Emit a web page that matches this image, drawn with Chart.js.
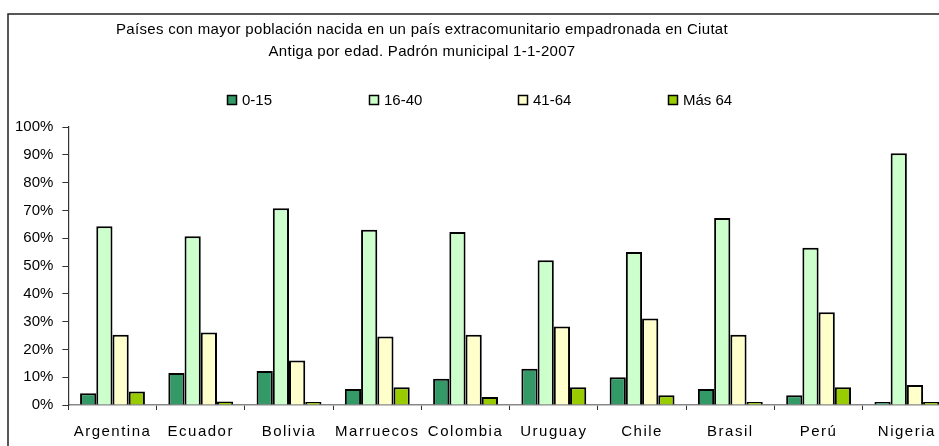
<!DOCTYPE html>
<html>
<head>
<meta charset="utf-8">
<script src="https://cdn.jsdelivr.net/npm/chart.js@4/dist/chart.umd.min.js"></script>
<style>
  html, body { margin: 0; padding: 0; background: #fff; overflow: hidden; width: 939px; height: 446px; }
  canvas { display: block; }
</style>
</head>
<body>
<canvas id="grafico" width="960" height="460"></canvas>
<script>
// --- DATOS ---
const categorias = ["Argentina", "Ecuador", "Bolivia", "Marruecos", "Colombia", "Uruguay", "Chile", "Brasil", "Perú", "Nigeria"];
const etiquetasSeries = ["0-15", "16-40", "41-64", "Más 64"];

const edad0a15  = [4.2, 11.5, 12.2, 5.8, 9.4, 13.0, 10.0, 5.8, 3.5, 0.5];
const edad16a40 = [64.3, 60.7, 70.8, 63.0, 62.2, 52.1, 55.0, 67.3, 56.6, 90.6];
const edad41a64 = [25.3, 26.1, 16.0, 24.6, 25.3, 28.2, 31.1, 25.3, 33.4, 7.2];
const edadMas64 = [4.9, 1.3, 0.6, 6.4, 2.9, 6.4, 3.5, 0.5, 6.4, 0.6];

const tituloLineas = [
  "Países con mayor población nacida en un país extracomunitario empadronada en Ciutat",
  "Antiga por edad. Padrón municipal 1-1-2007"
];

const colores = ["#339966", "#CCFFCC", "#FFFFCC", "#99CC00"];
const FUENTE = "'Liberation Sans', Arial, sans-serif";

// --- PLUGIN: marco, título y leyenda al estilo Excel ---
const decoracion = {
  id: "decoracion",
  beforeDraw(chart) {
    const ctx = chart.ctx;
    // las etiquetas del eje X de Excel van más espaciadas
    const sx = chart.scales.x;
    if (!sx._espaciado) {
      const original = sx.drawLabels.bind(sx);
      sx.drawLabels = function (area) {
        ctx.save();
        ctx.letterSpacing = "1.5px";
        original(area);
        ctx.restore();
      };
      sx._espaciado = true;
    }
    ctx.save();
    // marco del gráfico (solo se ven borde superior e izquierdo)
    ctx.strokeStyle = "#222";
    ctx.lineWidth = 1.5;
    ctx.strokeRect(8, 14, 1200, 800);
    ctx.restore();
  },
  afterDraw(chart) {
    const ctx = chart.ctx;
    ctx.save();
    ctx.fillStyle = "#000";
    ctx.font = "15px " + FUENTE;
    ctx.letterSpacing = "0.3px";
    ctx.textAlign = "center";
    ctx.textBaseline = "middle";
    ctx.fillText(tituloLineas[0], 422, 30);
    ctx.fillText(tituloLineas[1], 422, 52);

    // leyenda
    ctx.letterSpacing = "0px";
    const xs = [227, 369, 518, 668];
    ctx.textAlign = "left";
    chart.data.datasets.forEach((ds, i) => {
      const x = xs[i];
      ctx.fillStyle = ds.backgroundColor;
      ctx.fillRect(x, 95, 10, 10);
      ctx.strokeStyle = "#000";
      ctx.lineWidth = 1.5;
      ctx.strokeRect(x + 0.5, 95.5, 9, 9);
      ctx.fillStyle = "#000";
      ctx.fillText(ds.label, x + 15, 100.5);
    });
    ctx.restore();
  }
};

const series = [edad0a15, edad16a40, edad41a64, edadMas64];

new Chart(document.getElementById("grafico"), {
  type: "bar",
  data: {
    labels: categorias,
    datasets: series.map((valores, i) => ({
      label: etiquetasSeries[i],
      data: valores,
      backgroundColor: colores[i],
      borderColor: "#000",
      borderWidth: 2,
      minBarLength: 3,
      barPercentage: 1.0,
      categoryPercentage: 0.735
    }))
  },
  options: {
    responsive: false,
    animation: false,
    devicePixelRatio: 1,
    layout: { padding: { top: 127, left: 6, right: 9, bottom: 6 } },
    plugins: {
      legend: { display: false },
      title: { display: false },
      tooltip: { enabled: false }
    },
    scales: {
      x: {
        grid: {
          offset: true,
          drawOnChartArea: false,
          drawTicks: true,
          tickLength: 5,
          color: "#333"
        },
        border: { color: "#888", width: 1.5 },
        ticks: {
          color: "#000",
          padding: 13,
          maxRotation: 0,
          autoSkip: false,
          font: { family: FUENTE, size: 15 }
        }
      },
      y: {
        min: 0,
        max: 100,
        grid: {
          drawOnChartArea: false,
          drawTicks: true,
          tickLength: 6,
          color: "#333"
        },
        border: { color: "#333", width: 1.2 },
        ticks: {
          stepSize: 10,
          color: "#000",
          padding: 9,
          font: { family: FUENTE, size: 15 },
          callback: v => v + "%"
        }
      }
    }
  },
  plugins: [decoracion]
});
</script>
</body>
</html>
